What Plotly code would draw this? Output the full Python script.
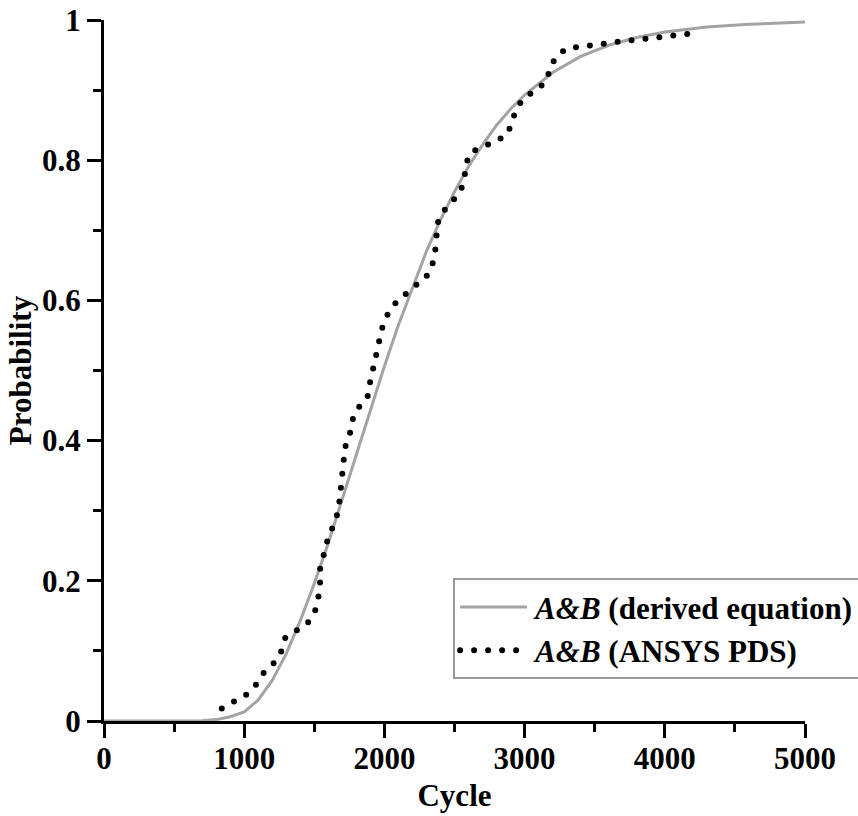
import plotly.graph_objects as go

# Derived equation (grey solid curve)
eq_cycle = [0, 500, 700, 800, 900, 1000, 1100, 1200, 1300, 1400, 1500, 1600, 1700, 1800,
            1900, 2000, 2100, 2200, 2300, 2400, 2500, 2600, 2700, 2800, 2900, 3000, 3200,
            3400, 3600, 3800, 4000, 4300, 4600, 5000]
eq_prob = [0.0, 0.0, 0.0005, 0.002, 0.006, 0.013, 0.030, 0.058, 0.096, 0.143, 0.196, 0.254,
           0.317, 0.381, 0.444, 0.506, 0.565, 0.619, 0.670, 0.715, 0.755, 0.791, 0.822,
           0.850, 0.873, 0.893, 0.925, 0.948, 0.964, 0.975, 0.983, 0.990, 0.994, 0.997]

# ANSYS PDS (black dotted curve)
pds_cycle = [840, 929, 1018, 1084, 1136, 1208, 1262, 1291, 1369, 1453, 1504, 1528, 1541, 1540,
             1565, 1588, 1624, 1659, 1678, 1688, 1690, 1700, 1719, 1754, 1771, 1809, 1878,
             1892, 1916, 1944, 1957, 1976, 2009, 2057, 2135, 2206, 2290, 2337, 2360, 2372,
             2372, 2412, 2480, 2544, 2570, 2582, 2611, 2701, 2794, 2878, 2915, 2943, 2995,
             3081, 3158, 3181, 3229, 3305, 3407, 3507, 3604, 3704, 3804, 3902, 4001, 4101, 4205]
pds_prob = [0.018, 0.027, 0.038, 0.052, 0.068, 0.082, 0.098, 0.118, 0.129, 0.140, 0.156, 0.175,
            0.196, 0.216, 0.235, 0.254, 0.273, 0.291, 0.311, 0.330, 0.350, 0.370, 0.390, 0.410,
            0.429, 0.446, 0.460, 0.478, 0.498, 0.517, 0.536, 0.556, 0.575, 0.592, 0.606, 0.619,
            0.631, 0.647, 0.667, 0.687, 0.707, 0.725, 0.740, 0.756, 0.774, 0.794, 0.811, 0.819,
            0.827, 0.837, 0.855, 0.874, 0.889, 0.900, 0.913, 0.932, 0.949, 0.960, 0.962, 0.965,
            0.969, 0.970, 0.972, 0.974, 0.976, 0.978, 0.981]

x_ticks = [0, 1000, 2000, 3000, 4000, 5000]
x_ticklabels = ["0", "1000", "2000", "3000", "4000", "5000"]
y_ticks = [0, 0.2, 0.4, 0.6, 0.8, 1.0]
y_ticklabels = ["0", "0.2", "0.4", "0.6", "0.8", "1"]

FONT = "Liberation Serif, Times New Roman, serif"
FS = 31

fig = go.Figure()
fig.add_trace(go.Scatter(
    x=eq_cycle, y=eq_prob, mode="lines",
    name="<i>A&amp;B</i> (derived equation)",
    line=dict(color="#a3a3a3", width=3),
    cliponaxis=False,
))
fig.add_trace(go.Scatter(
    x=pds_cycle, y=pds_prob, mode="lines",
    name="<i>A&amp;B</i> (ANSYS PDS)",
    line=dict(color="black", width=6, dash="0px,14px"),
    cliponaxis=False,
))

axis_common = dict(
    showline=True, linecolor="black", linewidth=3,
    ticks="outside", tickwidth=3, tickcolor="black",
    showgrid=False, zeroline=False, layer="below traces",
    tickfont=dict(family=FONT, size=FS, color="black", weight="bold"),
    automargin=False,
)

fig.update_xaxes(
    range=[0, 5000], tickmode="array", tickvals=x_ticks, ticktext=x_ticklabels,
    ticklen=14, ticklabelstandoff=-6,
    minor=dict(dtick=500, tick0=0, ticklen=8, tickwidth=3, tickcolor="black", ticks="outside"),
    title=dict(text="Cycle", font=dict(family=FONT, size=FS, color="black", weight="bold"),
               standoff=10),
    **axis_common,
)
fig.update_yaxes(
    range=[0, 1], tickmode="array", tickvals=y_ticks, ticktext=y_ticklabels,
    ticklen=14, ticklabelstandoff=0,
    minor=dict(dtick=0.1, tick0=0, ticklen=8, tickwidth=3, tickcolor="black", ticks="outside"),
    title=dict(text="Probability", font=dict(family=FONT, size=FS, color="black", weight="bold"),
               standoff=2),
    **axis_common,
)

fig.update_layout(
    width=858, height=816,
    margin=dict(l=104, r=53, t=20, b=95, autoexpand=False),
    paper_bgcolor="white", plot_bgcolor="white",
    showlegend=True,
    legend=dict(
        x=0.498, y=0.2035, xanchor="left", yanchor="top",
        bgcolor="white", bordercolor="#9a9a9a", borderwidth=2,
        font=dict(family=FONT, size=FS, color="black", weight="bold"),
        itemwidth=70, tracegroupgap=0,
    ),
)

post = """
var gd = document.getElementById('{plot_id}');
function fixDots(){
  document.querySelectorAll('path.js-line').forEach(function(p){
    var da = p.style.strokeDasharray || '';
    if (da.indexOf('14') >= 0) { p.style.strokeLinecap = 'round'; }
  });
  document.querySelectorAll('.legend g.legendlines path.js-line').forEach(function(p){
    p.setAttribute('d', 'M5,0h67');
  });
}
fixDots();
if (gd && gd.on) { gd.on('plotly_afterplot', fixDots); }
"""

fig.write_html("out.html", post_script=post)
